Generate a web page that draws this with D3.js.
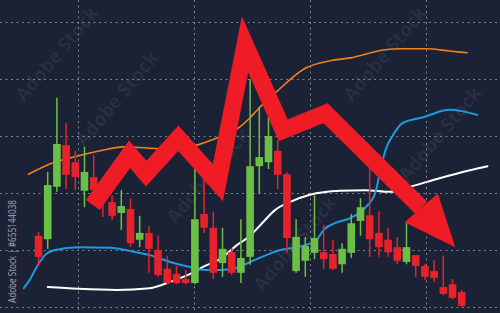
<!DOCTYPE html>
<html>
<head>
<meta charset="utf-8">
<script src="https://cdn.jsdelivr.net/npm/d3@7"></script>
<style>
    html, body { margin: 0; padding: 0; background: #1c2236; overflow: hidden; }
    svg { display: block; }
</style>
</head>
<body>
<div id="chart"></div>
<script>
// candles, one per session (price units)
var candleOpen  = [112.5, 111.9, 121.1, 128.4, 125.4, 120.4, 122.8, 121.2, 118.4, 116.5, 117.2, 111.8, 113.0, 110.0, 106.7, 105.8, 104.9, 104.2, 116.3, 113.9, 107.7, 109.6, 106.0, 108.8, 124.7, 125.4, 127.4, 123.3, 106.3, 108.1, 109.5, 109.6, 109.3, 107.5, 109.5, 115.1, 116.1, 113.0, 111.8, 110.5, 107.9, 109.1, 107.2, 106.3, 103.5, 104.0, 102.6];
var candleHigh  = [113.2, 123.7, 136.7, 132.3, 127.4, 128.1, 126.7, 122.3, 119.6, 120.5, 119.0, 116.0, 114.2, 112.5, 109.0, 107.2, 106.5, 124.2, 122.3, 116.7, 113.9, 110.4, 115.4, 140.0, 135.1, 133.3, 129.3, 123.7, 115.4, 112.3, 119.6, 114.4, 111.8, 111.2, 116.3, 119.1, 124.4, 116.8, 113.9, 112.3, 114.7, 109.1, 107.5, 108.2, 109.0, 104.9, 103.0];
var candleLow   = [107.2, 110.2, 120.2, 120.7, 120.5, 117.5, 119.6, 115.8, 115.3, 113.5, 110.5, 110.5, 106.0, 105.3, 104.0, 104.0, 104.0, 104.0, 113.0, 104.9, 105.3, 105.6, 104.2, 107.4, 119.8, 124.2, 120.7, 109.5, 106.0, 105.3, 108.4, 106.7, 106.5, 106.0, 108.6, 112.5, 108.8, 108.8, 108.8, 107.5, 107.5, 105.3, 104.7, 104.4, 102.1, 101.4, 100.0];
var candleClose = [108.8, 121.4, 128.6, 123.2, 122.8, 123.7, 120.5, 118.8, 116.0, 117.7, 111.2, 113.0, 110.2, 105.6, 104.2, 104.2, 104.2, 115.4, 113.9, 106.0, 110.2, 106.0, 108.6, 124.7, 126.3, 130.0, 123.2, 112.1, 112.3, 110.7, 112.1, 108.4, 106.7, 110.2, 114.7, 117.5, 111.9, 110.5, 109.6, 108.1, 110.5, 107.2, 105.3, 105.1, 102.3, 101.6, 100.2];

// indicator lines, read at candle positions (fractional index)
var orangeIdx = [-1.1, 1.6, 4.3, 6.7, 9.2, 11.8, 14.3, 17.2, 19.2, 21.9, 23.0, 23.8, 25.7, 29.0, 31.7, 33.9, 37.5, 39.3, 42.2, 44.7, 46.6];
var orangeVal = [123.3, 125.3, 126.5, 127.4, 128.1, 127.9, 127.7, 128.4, 129.5, 131.6, 133.2, 134.6, 137.5, 141.9, 143.2, 143.7, 145.1, 145.3, 145.3, 144.9, 144.6];
var blueIdx = [-1.6, -0.9, -0.2, 0.7, 1.8, 4.3, 7.8, 10.3, 12.1, 14.3, 16.5, 18.1, 19.7, 21.4, 23.0, 24.3, 26.3, 28.1, 30.1, 31.1, 32.2, 33.9, 35.5, 36.6, 37.2, 37.8, 38.4, 39.6, 41.8, 44.7, 47.7];
var blueVal = [103.3, 104.9, 107.0, 109.1, 110.0, 110.5, 110.4, 109.7, 109.1, 107.9, 107.0, 106.5, 106.5, 106.8, 107.9, 108.8, 110.0, 110.5, 111.6, 113.7, 114.7, 115.6, 117.4, 120.0, 124.4, 127.9, 129.8, 132.3, 133.3, 134.6, 133.7];
var whiteIdx = [1.0, 4.3, 8.5, 12.1, 14.3, 16.5, 18.1, 19.7, 21.6, 23.0, 24.3, 25.7, 27.3, 29.5, 32.8, 35.5, 38.2, 40.4, 43.6, 46.9, 48.8];
var whiteVal = [103.5, 103.2, 103.0, 103.3, 104.4, 105.8, 107.2, 108.4, 110.9, 112.5, 114.7, 117.0, 118.4, 119.7, 120.4, 120.5, 120.2, 121.1, 122.6, 124.0, 124.7];

// trend arrow vertices, last one is the tip
var arrowIdx = [5.9, 9.9, 11.7, 15.2, 19.5, 22.45, 26.6, 31.2, 41.6, 45.3];
var arrowVal = [117.9, 126.8, 123.4, 129.6, 121.8, 146.1, 131.0, 134.0, 117.4, 110.5];

var gridValues = [100, 110, 120, 130, 140, 150];

(function () {
    var width = 500;
    var height = 313;
    var up = "#6cbf45";
    var down = "#e8222b";

    var x = d3.scaleLinear().domain([0, candleOpen.length - 1]).range([38.5, 461.7]);
    var y = d3.scaleLinear().domain([100, 150]).range([307, 22]);
    var bodyWidth = 7.6;

    var svg = d3.select("#chart")
        .append("svg")
        .attr("width", width)
        .attr("height", height)
        .attr("viewBox", "0 0 " + width + " " + height);

    svg.append("rect")
        .attr("width", width)
        .attr("height", height)
        .attr("fill", "#1c2236");

    // dashed grid
    var grid = svg.append("g")
        .attr("stroke", "#9ca1ae")
        .attr("stroke-opacity", 0.75)
        .attr("stroke-width", 1)
        .attr("stroke-dasharray", "2,3.5");

    grid.selectAll(".gh")
        .data(gridValues)
        .enter()
        .append("line")
        .attr("x1", 0)
        .attr("x2", width)
        .attr("y1", function (d) { return Math.round(y(d)) + 0.5; })
        .attr("y2", function (d) { return Math.round(y(d)) + 0.5; });

    grid.selectAll(".gv")
        .data(d3.range(78, width, 116))
        .enter()
        .append("line")
        .attr("x1", function (d) { return d + 0.5; })
        .attr("x2", function (d) { return d + 0.5; })
        .attr("y1", 0)
        .attr("y2", height);

    // faint stock watermarks, kept inside the frame
    var marks = [[62, 58], [122, 103], [213, 180], [300, 248], [390, 58], [445, 138]];
    svg.append("g")
        .selectAll("text")
        .data(marks)
        .enter()
        .append("text")
        .attr("transform", function (d) { return "translate(" + d[0] + "," + d[1] + ") rotate(-50)"; })
        .attr("text-anchor", "middle")
        .attr("font-family", "Open Sans, sans-serif")
        .attr("font-weight", "bold")
        .attr("font-size", 19)
        .attr("fill", "#ffffff")
        .attr("fill-opacity", 0.06)
        .text("Adobe Stock");

    // indicator lines
    var line = d3.line()
        .x(function (d) { return x(d[0]); })
        .y(function (d) { return y(d[1]); })
        .curve(d3.curveMonotoneX);

    function drawLine(idx, vals, color, w) {
        svg.append("path")
            .datum(d3.zip(idx, vals))
            .attr("fill", "none")
            .attr("stroke", color)
            .attr("stroke-width", w)
            .attr("stroke-linecap", "round")
            .attr("d", line);
    }

    drawLine(whiteIdx, whiteVal, "#ffffff", 2);
    drawLine(blueIdx, blueVal, "#1c9be0", 2);
    drawLine(orangeIdx, orangeVal, "#f2801f", 1.6);

    // candles
    var candles = candleOpen.map(function (o, i) {
        return { i: i, o: o, h: candleHigh[i], l: candleLow[i], c: candleClose[i] };
    });

    var g = svg.append("g")
        .selectAll("g")
        .data(candles)
        .enter()
        .append("g")
        .attr("fill", function (d) { return d.c >= d.o ? up : down; })
        .attr("stroke", function (d) { return d.c >= d.o ? up : down; });

    g.append("line")
        .attr("x1", function (d) { return x(d.i); })
        .attr("x2", function (d) { return x(d.i); })
        .attr("y1", function (d) { return y(d.h); })
        .attr("y2", function (d) { return y(d.l); })
        .attr("stroke-width", 1.5);

    g.append("rect")
        .attr("stroke", "none")
        .attr("x", function (d) { return x(d.i) - bodyWidth / 2; })
        .attr("width", bodyWidth)
        .attr("y", function (d) { return y(Math.max(d.o, d.c)); })
        .attr("height", function (d) { return Math.max(1.5, Math.abs(y(d.o) - y(d.c))); });

    // red trend arrow
    var pts = d3.zip(arrowIdx, arrowVal).map(function (d) { return [x(d[0]), y(d[1])]; });
    var tip = pts[pts.length - 1];
    var base = pts[pts.length - 2];
    var dx = tip[0] - base[0];
    var dy = tip[1] - base[1];
    var len = Math.sqrt(dx * dx + dy * dy);
    var nx = -dy / len;
    var ny = dx / len;
    var half = 22;

    svg.append("path")
        .attr("d", d3.line()(pts.slice(0, -1)))
        .attr("fill", "none")
        .attr("stroke", "#ef1c26")
        .attr("stroke-width", 17)
        .attr("stroke-linejoin", "miter")
        .attr("stroke-miterlimit", 10)
        .attr("stroke-linecap", "butt");

    svg.append("path")
        .attr("d", d3.line()([
            [base[0] + nx * half, base[1] + ny * half],
            tip,
            [base[0] - nx * half, base[1] - ny * half]
        ]) + "Z")
        .attr("fill", "#ef1c26");

    // vertical credit
    svg.append("text")
        .attr("transform", "translate(16,251.5) rotate(-90)")
        .attr("text-anchor", "middle")
        .attr("font-family", "Open Sans, sans-serif")
        .attr("font-size", 10)
        .attr("textLength", 103)
        .attr("lengthAdjust", "spacingAndGlyphs")
        .attr("fill", "#ffffff")
        .attr("fill-opacity", 0.6)
        .text("Adobe Stock | #655144038");
}());
</script>
</body>
</html>
